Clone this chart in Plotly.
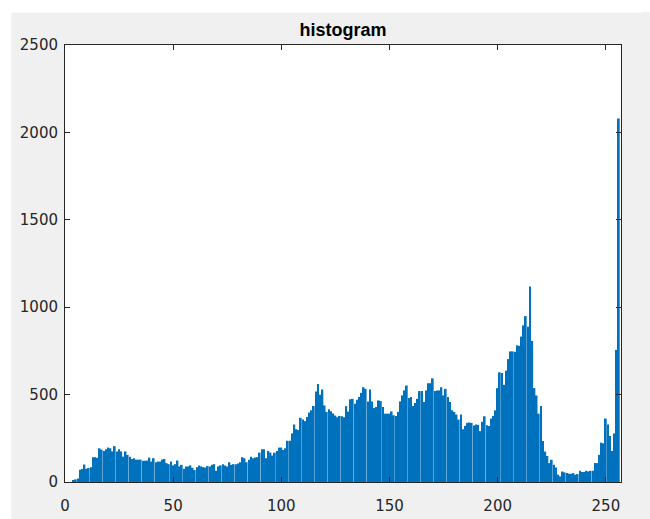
import plotly.graph_objects as go

# Histogram counts for intensity bins 1..256 (MATLAB bar(counts) style)
counts = [
    0, 0, 0, 8, 15, 20, 70, 75, 100, 75,
    80, 85, 142, 142, 138, 193, 185, 178, 187, 197,
    193, 175, 205, 175, 187, 175, 145, 175, 155, 145,
    132, 136, 128, 128, 128, 121, 121, 123, 140, 117,
    136, 113, 117, 117, 128, 132, 108, 102, 117, 95,
    102, 123, 89, 98, 76, 89, 89, 95, 81, 68,
    85, 95, 89, 85, 82, 91, 89, 98, 102, 64,
    89, 95, 102, 95, 89, 113, 98, 102, 102, 106,
    113, 142, 136, 113, 127, 144, 136, 140, 142, 168,
    187, 187, 136, 178, 168, 151, 168, 178, 197, 197,
    183, 193, 236, 236, 278, 329, 302, 297, 367, 357,
    348, 372, 397, 410, 435, 518, 561, 499, 529, 438,
    401, 416, 405, 392, 380, 370, 378, 376, 370, 434,
    403, 473, 476, 448, 471, 486, 510, 542, 533, 461,
    529, 461, 423, 429, 467, 463, 429, 391, 391, 391,
    404, 382, 378, 401, 461, 495, 524, 552, 480, 486,
    435, 452, 476, 520, 520, 457, 524, 565, 565, 593,
    520, 524, 524, 542, 495, 533, 486, 457, 410, 401,
    386, 357, 386, 302, 321, 338, 340, 338, 323, 329,
    327, 291, 344, 376, 325, 321, 363, 378, 410, 537,
    627, 624, 556, 637, 703, 747, 747, 745, 782, 779,
    832, 896, 949, 888, 1119, 807, 537, 495, 391, 435,
    234, 174, 149, 108, 127, 98, 83, 42, 32, 60,
    55, 51, 47, 47, 51, 42, 45, 64, 57, 57,
    64, 60, 64, 64, 108, 108, 155, 225, 221, 363,
    329, 263, 178, 278, 756, 2079,
]
bins = list(range(1, len(counts) + 1))

x_ticks = [0, 50, 100, 150, 200, 250]
y_ticks = [0, 500, 1000, 1500, 2000, 2500]
title_text = "histogram"

fig = go.Figure()
fig.add_trace(go.Bar(
    x=bins, y=counts,
    marker=dict(color="#0072BD", line=dict(width=0)),
    hoverinfo="x+y",
))

axis_common = dict(
    showline=True, linecolor="#262626", linewidth=1,
    mirror="ticks", ticks="inside", ticklen=5, tickwidth=1,
    tickcolor="#262626", showgrid=False, zeroline=False,
    tickfont=dict(family="DejaVu Sans", size=15, color="#262626"),
)

# figure sits at (8, 8) in the page because of the default body margin
L, R, T, B = 56, 36.5, 36.5, 42.3
W, H = 650, 519
pw = W - L - R
ph = H - T - B

fig.update_layout(
    width=W, height=H,
    margin=dict(l=L, r=R, t=T, b=B),
    paper_bgcolor="#f0f0f0",
    plot_bgcolor="white",
    bargap=0.2,
    showlegend=False,
    title=dict(
        text="<b>" + title_text + "</b>",
        x=0.5, xref="paper", xanchor="center",
        y=1, yref="paper", yanchor="bottom", pad=dict(b=9),
        font=dict(family="Liberation Sans", size=18, color="#000000"),
    ),
    xaxis=dict(range=[0, 257], tickvals=x_ticks, ticklabelstandoff=10, **axis_common),
    yaxis=dict(range=[0, 2500], tickvals=y_ticks, ticklabelstandoff=3, **axis_common),
    shapes=[
        # white strip at top of the screenshot
        dict(type="rect", xref="paper", yref="paper",
             x0=-0.2, x1=1.1, y0=(H - B - 4) / ph, y1=1.3,
             fillcolor="white", line=dict(width=0), layer="below"),
        # white strip at left of the screenshot
        dict(type="rect", xref="paper", yref="paper",
             x0=-0.2, x1=(2 - L) / pw, y0=-0.2, y1=1.3,
             fillcolor="white", line=dict(width=0), layer="below"),
    ],
)

fig.write_html(
    "out.html",
    config={"displayModeBar": False},
    post_script=(
        "document.body.style.background="
        "'linear-gradient(to right, #ffffff 10px, rgba(0,0,0,0) 10px),"
        " linear-gradient(to bottom, #ffffff 12px, #f0f0f0 12px)';"
    ),
)
